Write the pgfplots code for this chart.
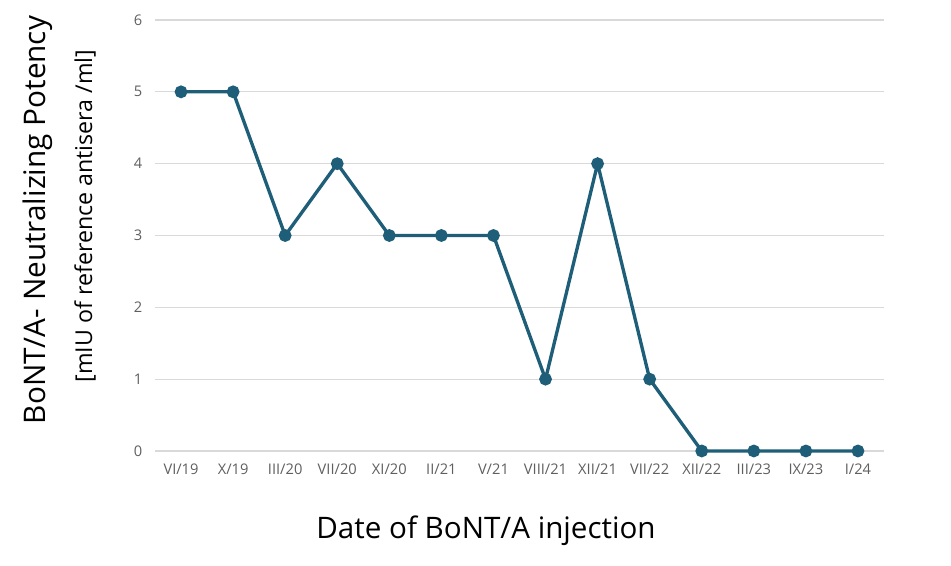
\documentclass[border=0pt]{standalone}
\usepackage{pgfplots}
\pgfplotsset{compat=1.18}
\usepackage{fontspec}
\setmainfont{Open Sans}
\definecolor{linec}{RGB}{30,94,120}
\definecolor{gridc}{RGB}{217,217,217}
\definecolor{tickc}{RGB}{95,95,95}
\begin{document}
\begin{tikzpicture}[x=0.75pt,y=0.75pt]
\path[use as bounding box] (-155,-115) rectangle (796,451);
\begin{axis}[
  at={(0,0)}, anchor=south west,
  scale only axis, width=546.75pt, height=323.25pt,
  xmin=-0.5, xmax=13.5, ymin=0, ymax=6,
  xtick={0,...,13},
  xticklabels={VI/19,X/19,III/20,VII/20,XI/20,II/21,V/21,VIII/21,XII/21,VII/22,XII/22,III/23,IX/23,I/24},
  ytick={0,...,6},
  ymajorgrids, grid style={gridc, line width=0.9pt},
  axis line style={draw=none},
  major tick length=0pt,
  tick label style={font=\fontsize{11}{12}\selectfont, text=tickc},
  /pgf/number format/assume math mode=true,
  xticklabel style={yshift=-6pt},
  yticklabel style={xshift=-6pt},
  clip=false,
]
\addplot[linec, line width=2.5pt, mark=*, mark size=3.5pt, mark options={fill=linec, draw=linec}]
coordinates {(0,5) (1,5) (2,3) (3,4) (4,3) (5,3) (6,3) (7,1) (8,4) (9,1) (10,0) (11,0) (12,0) (13,0)};
\end{axis}
\node[rotate=90, font=\fontsize{22.3}{26}\selectfont] at (-117,231) {BoNT/A- Neutralizing Potency};
\node[rotate=90, font=\fontsize{17.4}{20}\selectfont] at (-70,235) {[mIU of reference antisera /ml]};
\node[font=\fontsize{22.2}{26}\selectfont] at (331,-80) {Date of BoNT/A injection};
\end{tikzpicture}
\end{document}
